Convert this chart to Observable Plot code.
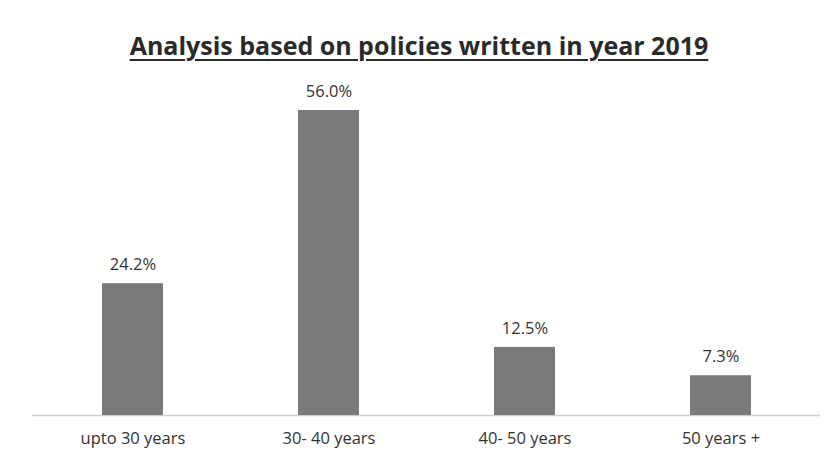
<!DOCTYPE html>
<html>
<head>
<meta charset="utf-8">
<script src="https://cdn.jsdelivr.net/npm/d3@7"></script>
<script src="https://cdn.jsdelivr.net/npm/@observablehq/plot@0.6"></script>
<style>
  html, body { margin: 0; padding: 0; background: #fff; }
  #wrap { width: 838px; height: 462px; position: relative; font-family: "Open Sans", sans-serif; }
  #title { height: 75px; box-sizing: border-box; padding-top: 30px; text-align: center; font-size: 25px; font-weight: bold; color: #2a2a2a; line-height: 30px; }
  #title span { text-decoration: underline; text-decoration-thickness: 2px; text-underline-offset: 4px; }
</style>
</head>
<body>
<div id="wrap">
  <div id="title"><span>Analysis based on policies written in year 2019</span></div>
  <div id="chart"></div>
</div>
<script>
const categories = ["upto 30 years", "30- 40 years", "40- 50 years", "50 years +"];
const values = [24.2, 56.0, 12.5, 7.3];
const labels = ["24.2%", "56.0%", "12.5%", "7.3%"];

const data = categories.map((c, i) => ({category: c, value: values[i], label: labels[i]}));

const chart = Plot.plot({
  width: 838,
  height: 387,
  marginTop: 35,
  marginBottom: 47,
  marginLeft: 32,
  marginRight: 18,
  style: {fontFamily: "Open Sans, sans-serif", fontSize: "16.5px", color: "#333", background: "#fff"},
  x: {domain: categories, paddingInner: 0.69, paddingOuter: 0.35, label: null, tickSize: 0, tickPadding: 17},
  y: {domain: [0, 56], axis: null},
  marks: [
    Plot.ruleY([0], {stroke: "#cfcfcf", strokeWidth: 1.5}),
    Plot.barY(data, {x: "category", y: "value", fill: "#7a7a7a"}),
    Plot.text(data, {x: "category", y: "value", text: "label", dy: -19, fontSize: 16.5, fill: "#333"})
  ]
});
document.getElementById("chart").appendChild(chart);
</script>
</body>
</html>
